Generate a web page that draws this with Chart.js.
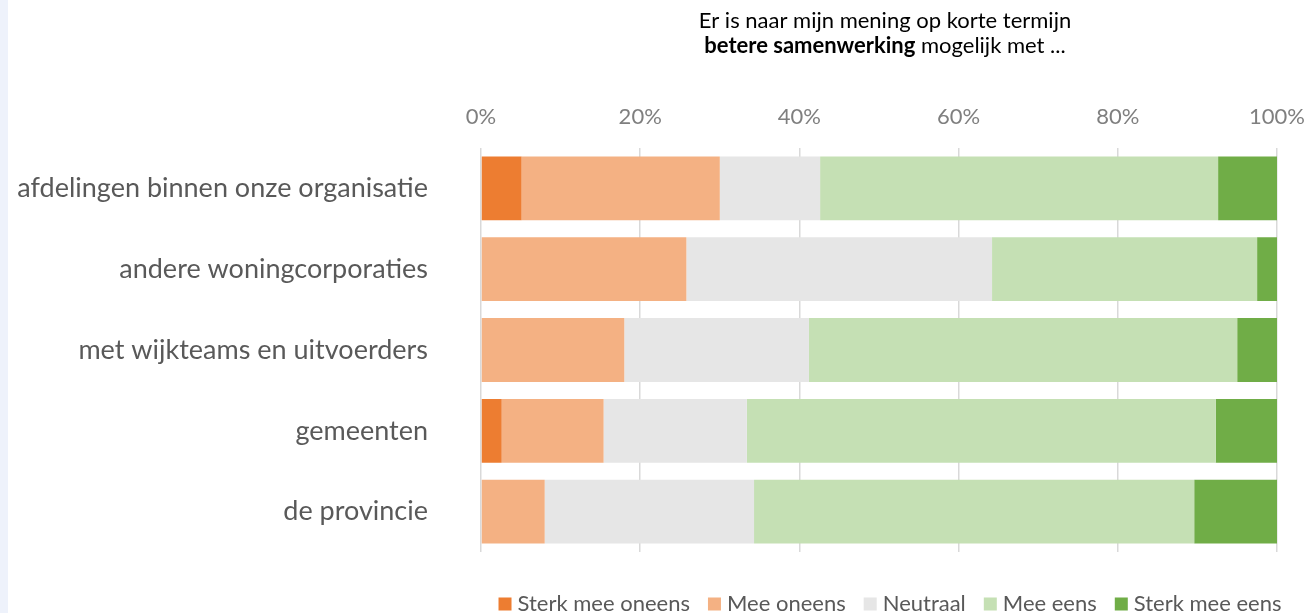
<!DOCTYPE html>
<html>
<head>
<meta charset="utf-8">
<script src="https://cdn.jsdelivr.net/npm/chart.js@4"></script>
<style>
  html, body { margin: 0; padding: 0; }
  body { width: 1309px; height: 613px; overflow: hidden;
         background: linear-gradient(to right, #eef2fb 0, #eef2fb 8px, #ffffff 8px); }
  #wrap { position: absolute; left: 0; top: 0; width: 1309px; height: 613px; }
</style>
</head>
<body>
<div id="wrap"><canvas id="chart"></canvas></div>
<script>
const categories = [
  "afdelingen binnen onze organisatie",
  "andere woningcorporaties",
  "met wijkteams en uitvoerders",
  "gemeenten",
  "de provincie"
];
const seriesNames = ["Sterk mee oneens", "Mee oneens", "Neutraal", "Mee eens", "Sterk mee eens"];
const seriesColors = ["#ED7D31", "#F4B183", "#E6E6E6", "#C5E0B4", "#70AD47"];
const sterkOneens = [5.1, 0, 0, 2.6, 0];
const oneens = [24.9, 25.8, 18.0, 12.8, 8.0];
const neutraal = [12.6, 38.4, 23.2, 18.0, 26.3];
const eens = [50.0, 33.3, 53.8, 58.9, 55.3];
const sterkEens = [7.4, 2.5, 5.0, 7.7, 10.4];
const tickValues = [0, 20, 40, 60, 80, 100];

const seriesValues = [sterkOneens, oneens, neutraal, eens, sterkEens];
const FONT = "Lato";

// title with bold part and a custom legend at the bottom
const extras = {
  id: "extras",
  afterDraw(chart) {
    const ctx = chart.ctx;
    ctx.save();
    ctx.fillStyle = "#000000";
    ctx.textBaseline = "middle";
    ctx.textAlign = "left";
    const cx = 885;
    ctx.font = "22px " + FONT;
    const l1 = "Er is naar mijn mening op korte termijn";
    ctx.fillText(l1, cx - ctx.measureText(l1).width / 2, 21);
    ctx.font = "bold 22px " + FONT;
    const b = "betere samenwerking";
    const bw = ctx.measureText(b).width;
    ctx.font = "22px " + FONT;
    const r = " mogelijk met ...";
    const rw = ctx.measureText(r).width;
    let x = cx - (bw + rw) / 2;
    ctx.font = "bold 22px " + FONT;
    ctx.fillText(b, x, 46);
    ctx.font = "22px " + FONT;
    ctx.fillText(r, x + bw, 46);

    // legend
    ctx.font = "22px " + FONT;
    const box = 13, gapBox = 6, gapItem = 18;
    const widths = seriesNames.map(n => ctx.measureText(n).width);
    const total = widths.reduce((s, w) => s + w + box + gapBox, 0) + gapItem * (seriesNames.length - 1);
    x = 890 - total / 2;
    const y = 604;
    seriesNames.forEach((n, i) => {
      ctx.fillStyle = seriesColors[i];
      ctx.fillRect(x, y - box / 2, box, box);
      ctx.fillStyle = "#595959";
      ctx.fillText(n, x + box + gapBox, y);
      x += box + gapBox + widths[i] + gapItem;
    });
    ctx.restore();
  }
};

new Chart(document.getElementById("chart").getContext("2d"), {
  type: "bar",
  data: {
    labels: categories,
    datasets: seriesNames.map((name, i) => ({
      label: name,
      data: seriesValues[i],
      backgroundColor: seriesColors[i],
      borderWidth: 0,
      barPercentage: 0.79,
      categoryPercentage: 1.0
    }))
  },
  options: {
    indexAxis: "y",
    responsive: true,
    maintainAspectRatio: false,
    animation: false,
    layout: { padding: { left: 0, right: 32, top: 0, bottom: 61 } },
    plugins: {
      legend: { display: false },
      tooltip: { enabled: false }
    },
    scales: {
      x: {
        position: "top",
        stacked: true,
        min: 0,
        max: 100,
        afterBuildTicks(scale) {
          scale.ticks = tickValues.map(v => ({ value: v }));
        },
        afterFit(scale) {
          scale.height = 148;
          scale.paddingLeft = 0;
          scale.paddingRight = 0;
        },
        grid: { color: "#D9D9D9", lineWidth: 1.5, drawTicks: false },
        border: { display: false },
        ticks: {
          padding: 18,
          color: "#7F7F7F",
          font: { family: FONT, size: 22 },
          callback: v => v + "%"
        }
      },
      y: {
        stacked: true,
        afterFit(scale) {
          scale.width = 481;
          scale.paddingTop = 0;
          scale.paddingBottom = 0;
        },
        grid: { display: false, drawTicks: false },
        border: { display: false },
        ticks: {
          padding: 53,
          color: "#595959",
          font: { family: FONT, size: 27 }
        }
      }
    }
  },
  plugins: [extras]
});
</script>
</body>
</html>
